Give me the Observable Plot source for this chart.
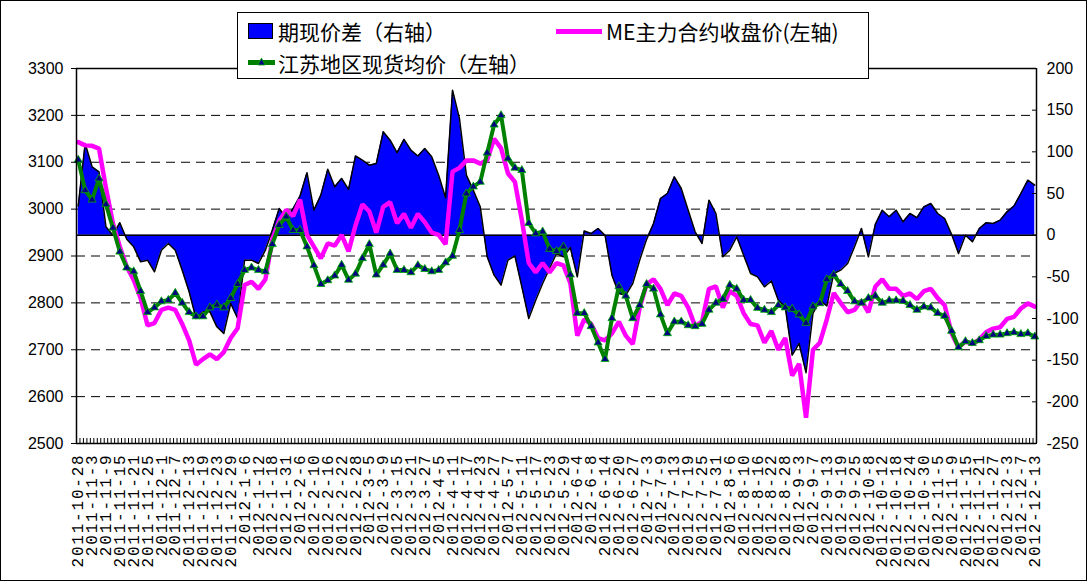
<!DOCTYPE html>
<html>
<head>
<meta charset="utf-8">
<script src="https://cdn.jsdelivr.net/npm/d3@7"></script>
<script src="https://cdn.jsdelivr.net/npm/@observablehq/plot@0.6"></script>
<style>
  html, body { margin: 0; padding: 0; background: #fff; }
  #wrap { position: relative; width: 1087px; height: 581px; overflow: hidden; background: #fff; }
  #frame { position: absolute; left: 0; top: 0; width: 1085px; height: 579px; border: 1px solid #000; pointer-events: none; }
  #legend { position: absolute; left: 237px; top: 12px; width: 630px; height: 65px; border: 1px solid #000; background: #fff;
            font-family: "Noto Sans CJK SC", sans-serif; font-size: 21px; color: #000; }
  .lg { position: absolute; white-space: nowrap; line-height: 24px; }
  .sw-area { position: absolute; width: 23px; height: 14px; background: #0000FF; border: 1px solid #000; }
  .sw-line { position: absolute; height: 5px; }
  .sw-mark { position: absolute; }
  .datelabels text { letter-spacing: 1.8px; }
</style>
</head>
<body>
<div id="wrap">
  <div id="chart"></div>
  <div id="legend">
    <div class="sw-area" style="left:10px; top:10px;"></div>
    <div class="lg" style="left:40px; top:6px;">期现价差（右轴）</div>
    <div class="sw-line" style="left:318px; top:16px; width:46px; background:#FF00FF;"></div>
    <div class="lg" style="left:368px; top:6px;">ME主力合约收盘价(左轴)</div>
    <div class="sw-line" style="left:10px; top:47px; width:27px; background:#008000;"></div>
    <svg class="sw-mark" style="left:19px; top:44px;" width="9" height="9"><path d="M4.5 1 L8 8 L1 8 Z" fill="#000080" stroke="#00b000" stroke-width="0.8"/></svg>
    <div class="lg" style="left:40px; top:38px;">江苏地区现货均价（左轴）</div>
  </div>
  <div id="frame"></div>
</div>
<script>
// x-axis tick labels (every 4th trading day)
const dateLabels = [
  "2011-10-28","2011-11-3","2011-11-9","2011-11-15","2011-11-21","2011-11-25","2011-12-1","2011-12-7","2011-12-13","2011-12-19",
  "2011-12-23","2011-12-29","2012-1-6","2012-1-12","2012-1-18","2012-1-31","2012-2-6","2012-2-10","2012-2-16","2012-2-22",
  "2012-2-28","2012-3-5","2012-3-9","2012-3-15","2012-3-21","2012-3-27","2012-4-5","2012-4-11","2012-4-17","2012-4-23",
  "2012-4-27","2012-5-7","2012-5-11","2012-5-17","2012-5-23","2012-5-29","2012-6-4","2012-6-8","2012-6-14","2012-6-20",
  "2012-6-27","2012-7-3","2012-7-9","2012-7-13","2012-7-19","2012-7-25","2012-7-31","2012-8-6","2012-8-10","2012-8-16",
  "2012-8-22","2012-8-28","2012-9-3","2012-9-7","2012-9-13","2012-9-19","2012-9-25","2012-10-8","2012-10-12","2012-10-18",
  "2012-10-24","2012-10-30","2012-11-5","2012-11-9","2012-11-15","2012-11-21","2012-11-27","2012-12-3","2012-12-7","2012-12-13"
];
const tradingDays = 277;   // number of daily categories on the x axis
const sampleStep = 2;      // the series below are read every 2nd trading day

// 期现价差（右轴）
const spread = [
  35,110,82,76,10,0,15,-5,-14,-32,
  -30,-44,-18,-10,-18,-42,-68,-100,-92,-92,
  -110,-118,-82,-100,-30,-30,-34,-18,6,32,
  21,32,47,75,30,48,79,58,68,55,
  95,90,84,86,124,114,99,115,102,95,
  104,94,72,45,174,140,72,54,34,-26,
  -48,-60,-30,-25,-62,-100,-78,-58,-40,-22,
  -26,-15,-50,5,2,8,0,-48,-70,-72,
  -58,-30,-5,14,44,50,70,56,30,4,
  -10,42,26,-26,-18,-2,-24,-46,-50,-62,
  -55,-78,-86,-144,-130,-165,-94,-78,-85,-46,
  -42,-34,-14,8,-26,13,30,22,30,16,
  26,21,34,38,26,20,1,-22,0,-8,
  8,15,14,18,28,35,50,66,60
];
// ME主力合约收盘价(左轴)
const futures = [
  3143,3136,3135,3129,3045,2970,2920,2877,2849,2810,
  2752,2757,2785,2790,2785,2755,2720,2668,2680,2690,
  2680,2695,2725,2746,2838,2845,2830,2850,2935,2975,
  2998,2985,3020,2945,2920,2895,2927,2922,2945,2910,
  2965,3010,2995,2950,3005,3015,2970,2990,2960,2990,
  2972,2950,2945,2925,3080,3088,3104,3104,3097,3105,
  3150,3130,3076,3058,2977,2885,2865,2885,2865,2885,
  2880,2842,2730,2765,2755,2725,2720,2735,2760,2730,
  2712,2790,2840,2850,2830,2795,2820,2815,2790,2750,
  2760,2830,2835,2790,2825,2815,2778,2755,2752,2715,
  2740,2700,2725,2645,2670,2555,2700,2715,2765,2821,
  2800,2780,2785,2805,2780,2835,2850,2830,2830,2815,
  2820,2808,2825,2830,2810,2795,2735,2705,2718,2712,
  2722,2738,2745,2748,2766,2770,2788,2799,2792
];
// 江苏地区现货均价（左轴）
const spot = [
  3105,3040,3020,3065,3010,2960,2909,2875,2867,2825,
  2780,2790,2803,2806,2821,2800,2780,2771,2771,2790,
  2796,2790,2810,2840,2870,2875,2870,2867,2925,2966,
  2984,2955,2955,2920,2880,2840,2848,2858,2881,2849,
  2862,2895,2925,2860,2881,2905,2870,2870,2865,2880,
  2872,2867,2870,2886,2900,2955,3033,3048,3058,3120,
  3180,3200,3108,3088,3083,2970,2948,2952,2915,2910,
  2920,2860,2778,2778,2750,2715,2680,2767,2835,2815,
  2767,2795,2840,2830,2775,2735,2760,2760,2752,2750,
  2755,2785,2800,2808,2838,2830,2806,2806,2789,2785,
  2780,2795,2790,2787,2775,2757,2792,2799,2850,2860,
  2840,2825,2803,2800,2810,2815,2800,2805,2805,2804,
  2795,2785,2792,2790,2778,2772,2740,2705,2718,2714,
  2720,2729,2732,2732,2735,2737,2733,2735,2728
];
const leftTicks = [2500, 2600, 2700, 2800, 2900, 3000, 3100, 3200, 3300];
const rightTicks = [-250, -200, -150, -100, -50, 0, 50, 100, 150, 200];

// map the right-axis scale onto the left-axis scale
const leftDomain = [2500, 3300], rightDomain = [-250, 200];
const toLeft = v => leftDomain[0] + (v - rightDomain[0]) * (leftDomain[1] - leftDomain[0]) / (rightDomain[1] - rightDomain[0]);
const toRight = y => rightDomain[0] + (y - leftDomain[0]) * (rightDomain[1] - rightDomain[0]) / (leftDomain[1] - leftDomain[0]);

const rows = spread.map((s, k) => ({day: k * sampleStep, spread: toLeft(s), futures: futures[k], spot: spot[k]}));
const zeroLine = toLeft(0);
const dayBounds = d3.range(tradingDays + 1).map(i => i - 0.5);
const labelRows = dateLabels.map((t, j) => ({day: j * 4, t}));

const chart = Plot.plot({
  width: 1087,
  height: 581,
  marginLeft: 76,
  marginRight: 51,
  marginTop: 68,
  marginBottom: 138,
  x: {domain: [-0.5, tradingDays - 0.5], axis: null},
  y: {domain: leftDomain, axis: null},
  style: {fontFamily: "Liberation Sans, Arial, sans-serif", background: "white", overflow: "visible", color: "#000"},
  marks: [
    Plot.ruleY(leftTicks.slice(1, -1), {stroke: "#000", strokeWidth: 1, strokeDasharray: "9,6"}),
    Plot.areaY(rows, {x: "day", y1: zeroLine, y2: "spread", fill: "#0000FF"}),
    Plot.line(rows, {x: "day", y: "spread", stroke: "#000", strokeWidth: 1.5}),
    Plot.ruleY([zeroLine], {stroke: "#000", strokeWidth: 1.5}),
    Plot.line(rows, {x: "day", y: "futures", stroke: "#FF00FF", strokeWidth: 4.5, strokeLinejoin: "miter"}),
    Plot.line(rows, {x: "day", y: "spot", stroke: "#008000", strokeWidth: 4}),
    Plot.dot(rows, {x: "day", y: "spot", symbol: "triangle", r: 3, fill: "#000080", stroke: "#00b000", strokeWidth: 0.8}),
    Plot.ruleX([-0.5, tradingDays - 0.5], {stroke: "#000", strokeWidth: 1.5}),
    Plot.ruleY(leftDomain, {stroke: "#000", strokeWidth: 1.5}),
    Plot.axisY({anchor: "left", ticks: leftTicks, tickSize: 5, tickPadding: 8, fontSize: 16, label: null, tickFormat: d => String(d)}),
    Plot.axisY({anchor: "right", ticks: rightTicks.map(toLeft), tickSize: -5, tickPadding: 15, fontSize: 16, label: null,
                tickFormat: d => String(Math.round(toRight(d)))}),
    Plot.axisX({anchor: "bottom", ticks: dayBounds, tickSize: -5, tickFormat: () => "", label: null}),
    Plot.text(labelRows, {x: "day", text: "t", frameAnchor: "bottom", rotate: -90, textAnchor: "end", lineAnchor: "middle",
                          dy: 10, fontFamily: "Liberation Mono, monospace", fontSize: 16, fill: "#000", className: "datelabels"})
  ]
});
document.getElementById("chart").appendChild(chart);
</script>
</body>
</html>
